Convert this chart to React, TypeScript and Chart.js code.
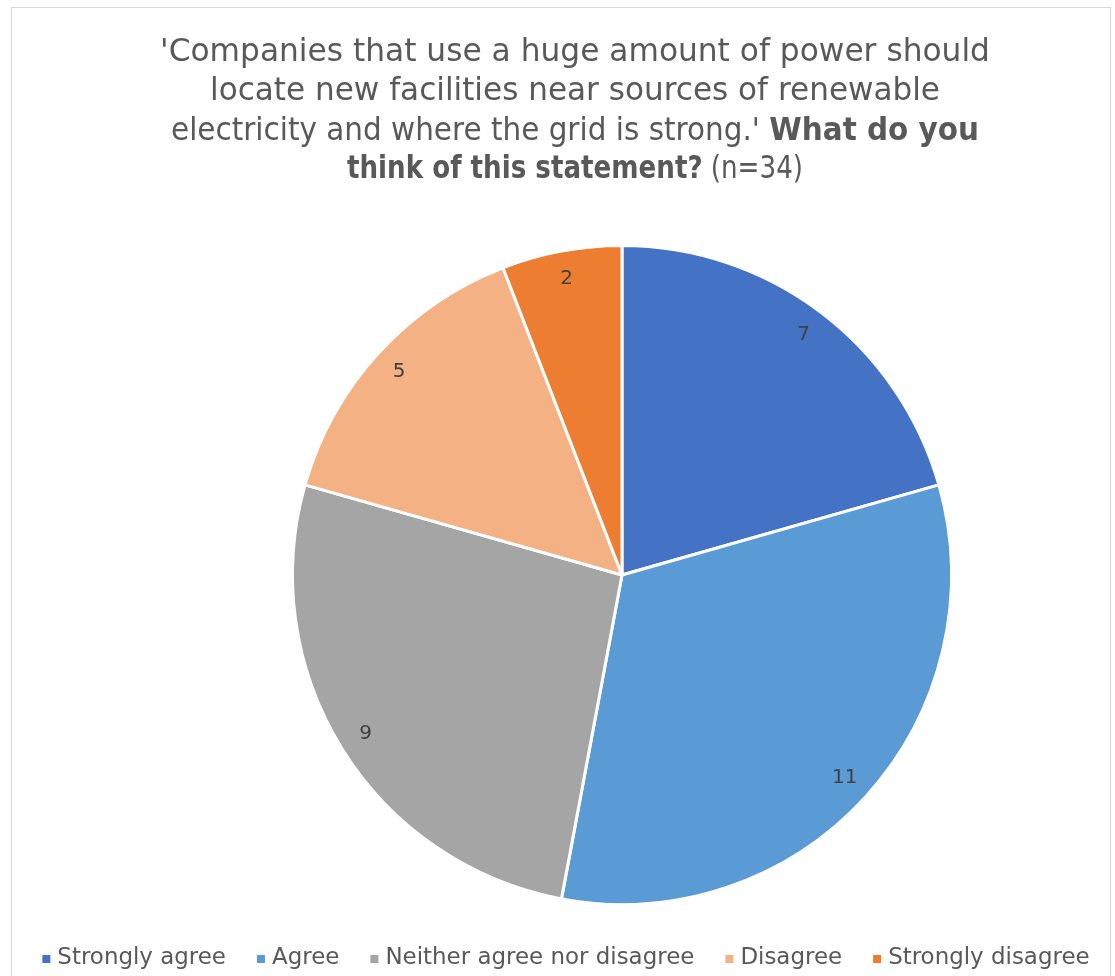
import React, { useEffect, useRef } from "react";
import { Chart, registerables } from "chart.js";

Chart.register(...registerables);

const categories = ["Strongly agree", "Agree", "Neither agree nor disagree", "Disagree", "Strongly disagree"];
const counts = [7, 11, 9, 5, 2];
const colors = ["#4472C4", "#5B9BD5", "#A5A5A5", "#F4B183", "#ED7D31"];
const titleLines: { text: string; bold: boolean }[][] = [
  [{ text: "'Companies that use a huge amount of power should", bold: false }],
  [{ text: "locate new facilities near sources of renewable", bold: false }],
  [
    { text: "electricity and where the grid is strong.' ", bold: false },
    { text: "What do you", bold: true },
  ],
  [
    { text: "think of this statement?", bold: true },
    { text: " (n=34)", bold: false },
  ],
];
const titleLineWidths = [830, 730, 808, 456];

const FONT = "'DejaVu Sans', sans-serif";
const TEXT_COLOR = "#595959";

const framePlugin = {
  id: "frame",
  beforeDraw(chart: any) {
    const ctx = chart.ctx;
    ctx.save();
    ctx.fillStyle = "#ffffff";
    ctx.fillRect(0, 0, chart.width, chart.height);
    ctx.strokeStyle = "#d9d9d9";
    ctx.lineWidth = 1;
    ctx.strokeRect(11.5, 7.5, 1099, 1000);
    ctx.restore();
  },
};

const titlePlugin = {
  id: "mixedTitle",
  afterDraw(chart: any) {
    const ctx = chart.ctx;
    ctx.save();
    let size = 30;
    ctx.font = `${size}px ${FONT}`;
    const w0 = ctx.measureText(titleLines[0][0].text).width;
    size = size * (830 / w0);
    const cx = 575;
    const baselines = [61, 100, 140, 178];
    ctx.fillStyle = TEXT_COLOR;
    ctx.textBaseline = "alphabetic";
    ctx.textAlign = "left";
    titleLines.forEach((runs, i) => {
      const widths = runs.map((r) => {
        ctx.font = `${r.bold ? "bold " : ""}${size}px ${FONT}`;
        return ctx.measureText(r.text).width;
      });
      const natural = widths.reduce((a, b) => a + b, 0);
      const k = Math.min(1, titleLineWidths[i] / natural);
      const total = natural * k;
      let x = cx - total / 2;
      runs.forEach((r, j) => {
        ctx.font = `${r.bold ? "bold " : ""}${size}px ${FONT}`;
        const w = widths[j] * k;
        ctx.fillText(r.text, x, baselines[i], w);
        x += w;
      });
    });
    ctx.restore();
  },
};

const labelPlugin = {
  id: "sliceLabels",
  afterDatasetsDraw(chart: any) {
    const ctx = chart.ctx;
    const meta = chart.getDatasetMeta(0);
    const data = chart.data.datasets[0].data as number[];
    ctx.save();
    ctx.font = `20px ${FONT}`;
    ctx.fillStyle = "#404040";
    ctx.textAlign = "center";
    ctx.textBaseline = "middle";
    meta.data.forEach((arc: any, i: number) => {
      const p = arc.getProps(["x", "y", "startAngle", "endAngle", "outerRadius"], true);
      const mid = (p.startAngle + p.endAngle) / 2;
      const r = p.outerRadius * 0.915;
      ctx.fillText(String(data[i]), p.x + Math.cos(mid) * r, p.y + Math.sin(mid) * r);
    });
    ctx.restore();
  },
};

const legendPlugin = {
  id: "bottomLegend",
  afterDraw(chart: any) {
    const ctx = chart.ctx;
    const labels = chart.data.labels as string[];
    const bg = chart.data.datasets[0].backgroundColor as string[];
    ctx.save();
    let size = 22;
    const box = 8;
    const boxGap = 7;
    const itemGap = 31;
    ctx.font = `${size}px ${FONT}`;
    let textTotal = labels.reduce((s, l) => s + ctx.measureText(l).width, 0);
    const fixed = labels.length * (box + boxGap) + (labels.length - 1) * itemGap;
    size = size * ((1048 - fixed) / textTotal);
    ctx.font = `${size}px ${FONT}`;
    const widths = labels.map((l) => ctx.measureText(l).width);
    textTotal = widths.reduce((a, b) => a + b, 0);
    const total = textTotal + fixed;
    let x = 566 - total / 2;
    const y = 958;
    ctx.textBaseline = "middle";
    ctx.textAlign = "left";
    labels.forEach((l, i) => {
      ctx.fillStyle = bg[i];
      ctx.fillRect(x, y - box / 2 + 1, box, box);
      x += box + boxGap;
      ctx.fillStyle = TEXT_COLOR;
      ctx.fillText(l, x, y);
      x += widths[i] + itemGap;
    });
    ctx.restore();
  },
};

export default function App() {
  const ref = useRef<HTMLCanvasElement>(null);
  useEffect(() => {
    if (!ref.current) return;
    const chart = new Chart(ref.current, {
      type: "pie",
      data: {
        labels: categories,
        datasets: [
          {
            data: counts,
            backgroundColor: colors,
            borderColor: "#ffffff",
            borderWidth: 3,
          },
        ],
      },
      options: {
        responsive: false,
        animation: false,
        layout: { padding: { top: 244, bottom: 70, left: 291, right: 162 } },
        plugins: {
          legend: { display: false },
          title: { display: false },
          tooltip: { enabled: false },
        },
      },
      plugins: [framePlugin, titlePlugin, labelPlugin, legendPlugin],
    });
    return () => chart.destroy();
  }, []);
  return (
    <div style={{ position: "fixed", left: 0, top: 0, width: 1115, height: 976, overflow: "hidden", background: "#fff" }}>
      <canvas ref={ref} width={1115} height={976} style={{ display: "block" }} />
    </div>
  );
}
